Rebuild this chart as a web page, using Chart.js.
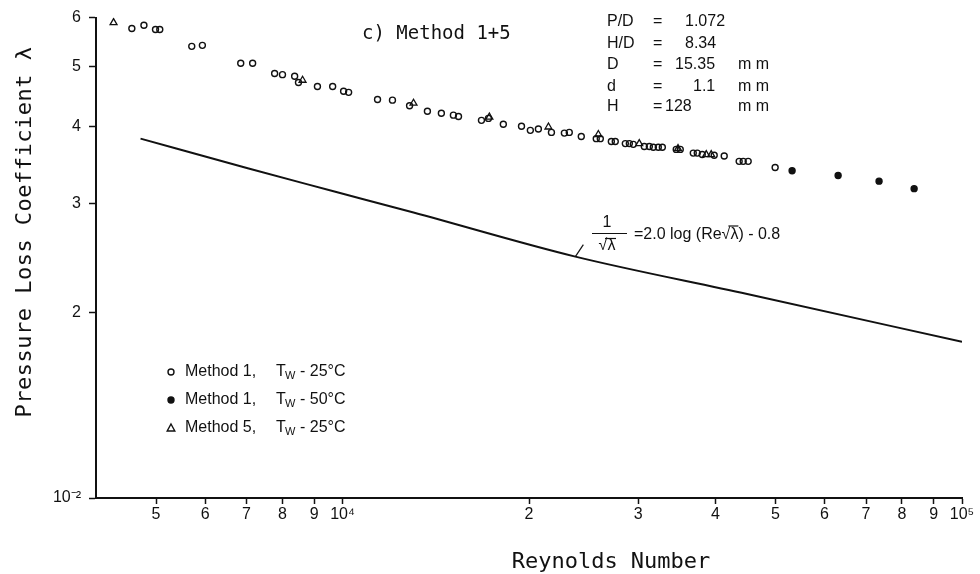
<!DOCTYPE html>
<html>
<head>
<meta charset="utf-8">
<script src="https://cdn.jsdelivr.net/npm/chart.js@4/dist/chart.umd.min.js"></script>
<style>
  html, body { margin: 0; padding: 0; background: #fff; }
  #c { display: block; }
</style>
</head>
<body>
<canvas id="c" width="980" height="574"></canvas>
<script>
// ---------- DATA ----------
const m1_25_re = [4570, 4780, 4990, 5070, 5710, 5940, 6850, 7160, 7770, 8000, 8370, 8490, 9110, 9640, 10040, 10230, 11390, 12040, 12830, 13710, 14440, 15100, 15390, 16760, 17200, 18180, 19450, 20100, 20710, 21740, 22810, 23230, 24290, 25680, 26070, 27160, 27560, 28610, 29040, 29470, 30700, 31280, 31750, 32340, 32830, 34570, 35090, 36830, 37380, 38080, 39810, 41320, 43680, 44340, 45170, 49930];
const m1_25_lambda = [0.0576, 0.0583, 0.0574, 0.0574, 0.0539, 0.0541, 0.0506, 0.0506, 0.0487, 0.0485, 0.0482, 0.0471, 0.0464, 0.0464, 0.0456, 0.0454, 0.0442, 0.0441, 0.0432, 0.0423, 0.0420, 0.0417, 0.0415, 0.0409, 0.0412, 0.0403, 0.0400, 0.0394, 0.0396, 0.0391, 0.0390, 0.0391, 0.0385, 0.0382, 0.0382, 0.0378, 0.0378, 0.0375, 0.0375, 0.0374, 0.0371, 0.0371, 0.0370, 0.0370, 0.0370, 0.0367, 0.0367, 0.0362, 0.0362, 0.0360, 0.0359, 0.0358, 0.0351, 0.0351, 0.0351, 0.0343];

const m1_50_re = [53180, 63100, 73470, 83700];
const m1_50_lambda = [0.0339, 0.0333, 0.0326, 0.0317];

const m5_25_re = [4270, 8620, 13020, 17260, 21500, 25880, 30130, 34800, 38650, 39370];
const m5_25_lambda = [0.0589, 0.0475, 0.0436, 0.0414, 0.0399, 0.0388, 0.0375, 0.0368, 0.0360, 0.0360];

// smooth-tube correlation curve
const curve_re = [4720, 7030, 9670, 13020, 23760, 45000, 100000];
const curve_lambda = [0.0382, 0.0342, 0.0314, 0.0290, 0.0246, 0.0214, 0.0179];

const xTickValues = [5000, 6000, 7000, 8000, 9000, 10000, 20000, 30000, 40000, 50000, 60000, 70000, 80000, 90000, 100000];
const xTickLabels = ['5', '6', '7', '8', '9', '10\u2074', '2', '3', '4', '5', '6', '7', '8', '9', '10\u2075'];
const yTickValues = [0.01, 0.02, 0.03, 0.04, 0.05, 0.06];
const yTickLabels = ['10\u207B\u00B2', '2', '3', '4', '5', '6'];

const legendLabels = ['Method 1,', 'Method 1,', 'Method 5,'];
const legendTemps = ['- 25\u00B0C', '- 50\u00B0C', '- 25\u00B0C'];

// ---------- helpers ----------
const pts = (xs, ys) => xs.map((x, i) => ({ x: x, y: ys[i] }));
const INK = '#111';
const SANS = '"Liberation Sans", Arial, sans-serif';
const MONO = '"DejaVu Sans Mono", monospace';

function drawMarker(ctx, kind, x, y) {
  ctx.save();
  ctx.strokeStyle = INK;
  ctx.fillStyle = INK;
  ctx.lineWidth = 1.4;
  if (kind === 'circle') {
    ctx.beginPath(); ctx.arc(x, y, 3, 0, Math.PI * 2); ctx.stroke();
  } else if (kind === 'filled') {
    ctx.beginPath(); ctx.arc(x, y, 3, 0, Math.PI * 2); ctx.fill(); ctx.stroke();
  } else {
    ctx.beginPath();
    ctx.moveTo(x, y - 4); ctx.lineTo(x + 3.8, y + 3); ctx.lineTo(x - 3.8, y + 3); ctx.closePath();
    ctx.stroke();
  }
  ctx.restore();
}

const annotations = {
  id: 'annotations',
  afterDraw(chart) {
    const ctx = chart.ctx;
    const xs = chart.scales.x, ys = chart.scales.y;
    ctx.save();
    ctx.fillStyle = INK;
    ctx.strokeStyle = INK;

    // panel title
    ctx.font = '19px ' + MONO;
    ctx.textBaseline = 'middle';
    ctx.textAlign = 'left';
    ctx.fillText('c) Method 1+5', 362, 34);

    // parameter block
    ctx.font = '16px ' + SANS;
    const rows = [
      ['P/D', '=', '1.072', '', 685, 22],
      ['H/D', '=', '8.34', '', 685, 44],
      ['D', '=', '15.35', 'm m', 675, 65],
      ['d', '=', '1.1', 'm m', 693, 87],
      ['H', '=', '128', 'm m', 665, 107]
    ];
    rows.forEach(r => {
      ctx.fillText(r[0], 607, r[5]);
      ctx.fillText(r[1], 653, r[5]);
      ctx.fillText(r[2], r[4], r[5]);
      if (r[3]) ctx.fillText(r[3], 738, r[5]);
    });

    // axis titles
    ctx.font = '22px ' + MONO;
    ctx.textAlign = 'center';
    ctx.textBaseline = 'alphabetic';
    ctx.fillText('Reynolds Number', 611, 568);
    ctx.save();
    ctx.translate(31, 232);
    ctx.rotate(-Math.PI / 2);
    if ('letterSpacing' in ctx) ctx.letterSpacing = '0.5px';
    ctx.fillText('Pressure Loss Coefficient \u03BB', 0, 0);
    ctx.restore();

    // correlation label with leader to the curve
    const lx = xs.getPixelForValue(curve_re[4]);
    const ly = ys.getPixelForValue(curve_lambda[4]);
    ctx.lineWidth = 1.2;
    ctx.beginPath(); ctx.moveTo(lx, ly); ctx.lineTo(lx + 8, ly - 12); ctx.stroke();
    ctx.font = '16px ' + SANS;
    ctx.textAlign = 'center';
    ctx.textBaseline = 'middle';
    ctx.fillText('1', 607, 223);
    ctx.beginPath(); ctx.moveTo(592, 233.5); ctx.lineTo(627, 233.5); ctx.stroke();
    ctx.fillText('\u221A\u03BB', 607, 246);
    ctx.beginPath(); ctx.moveTo(605, 238.5); ctx.lineTo(616, 238.5); ctx.stroke();
    ctx.textAlign = 'left';
    ctx.fillText('=2.0 log (Re\u221A\u03BB) - 0.8', 634, 235);
    const pre = ctx.measureText('=2.0 log (Re\u221A').width;
    const lw = ctx.measureText('\u03BB').width;
    ctx.beginPath(); ctx.moveTo(634 + pre - 2, 226); ctx.lineTo(634 + pre + lw, 226); ctx.stroke();

    // legend
    const kinds = ['circle', 'filled', 'triangle'];
    const ly0 = [372, 400, 428];
    kinds.forEach((k, i) => {
      drawMarker(ctx, k, 171, ly0[i]);
      ctx.font = '16px ' + SANS;
      ctx.textAlign = 'left';
      ctx.textBaseline = 'middle';
      ctx.fillText(legendLabels[i], 185, ly0[i]);
      ctx.fillText('T', 276, ly0[i]);
      ctx.font = '11px ' + SANS;
      ctx.fillText('W', 285, ly0[i] + 4);
      ctx.font = '16px ' + SANS;
      ctx.fillText(legendTemps[i], 300, ly0[i]);
    });
    ctx.restore();
  }
};

const chart = new Chart(document.getElementById('c'), {
  type: 'scatter',
  data: {
    datasets: [
      {
        label: 'Method 1, Tw - 25°C',
        data: pts(m1_25_re, m1_25_lambda),
        pointStyle: 'circle', pointRadius: 3, pointBorderWidth: 1.4,
        pointBackgroundColor: 'rgba(255,255,255,0)', pointBorderColor: INK
      },
      {
        label: 'Method 1, Tw - 50°C',
        data: pts(m1_50_re, m1_50_lambda),
        pointStyle: 'circle', pointRadius: 3, pointBorderWidth: 1.4,
        pointBackgroundColor: INK, pointBorderColor: INK
      },
      {
        label: 'Method 5, Tw - 25°C',
        data: pts(m5_25_re, m5_25_lambda),
        pointStyle: 'triangle', pointRadius: 4, pointBorderWidth: 1.3,
        pointBackgroundColor: 'rgba(255,255,255,0)', pointBorderColor: INK
      },
      {
        label: '1/sqrt(lambda) = 2.0 log(Re sqrt(lambda)) - 0.8',
        data: pts(curve_re, curve_lambda),
        showLine: true, pointRadius: 0, borderColor: INK, borderWidth: 2,
        cubicInterpolationMode: 'monotone', fill: false
      }
    ]
  },
  options: {
    responsive: false,
    animation: false,
    events: [],
    layout: { padding: { top: 16, right: 18, left: 0, bottom: 0 } },
    plugins: { legend: { display: false }, tooltip: { enabled: false } },
    scales: {
      x: {
        type: 'logarithmic', min: 4000, max: 100000,
        afterFit: s => { s.height = 76; },
        afterBuildTicks: s => { s.ticks = xTickValues.map(v => ({ value: v })); },
        grid: { drawOnChartArea: false, drawTicks: true, tickLength: 6, tickWidth: 1.5, tickColor: INK },
        border: { display: true, color: INK, width: 2 },
        ticks: {
          autoSkip: false, maxRotation: 0, minRotation: 0, padding: 1,
          color: INK, font: { family: SANS, size: 16 },
          callback: (v) => { const i = xTickValues.indexOf(v); return i >= 0 ? xTickLabels[i] : ''; }
        }
      },
      y: {
        type: 'logarithmic', min: 0.01, max: 0.06,
        afterFit: s => { s.width = 96; },
        afterBuildTicks: s => { s.ticks = yTickValues.map(v => ({ value: v })); },
        grid: { drawOnChartArea: false, drawTicks: true, tickLength: 7, tickWidth: 1.5, tickColor: INK },
        border: { display: true, color: INK, width: 2 },
        ticks: {
          autoSkip: false, padding: 8,
          color: INK, font: { family: SANS, size: 16 },
          callback: (v) => { const i = yTickValues.findIndex(t => Math.abs(t - v) < 1e-9); return i >= 0 ? yTickLabels[i] : ''; }
        }
      }
    }
  },
  plugins: [annotations]
});
</script>
</body>
</html>
